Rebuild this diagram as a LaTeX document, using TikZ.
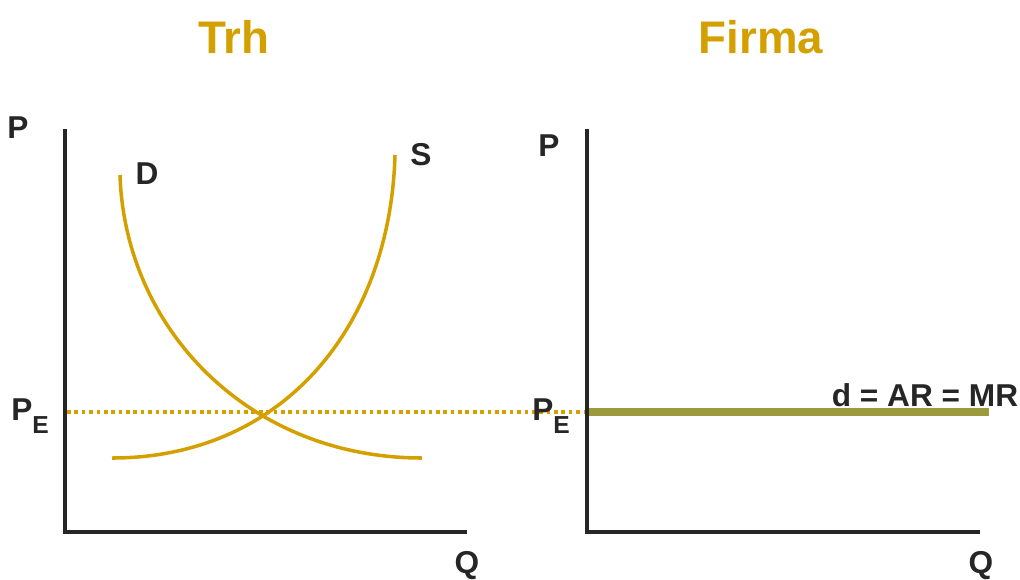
\documentclass[tikz,border=0pt]{standalone}
\usepackage{fontspec}
\setmainfont{Liberation Sans}
\usetikzlibrary{calc}
\definecolor{gold}{HTML}{D4A000}
\definecolor{olive}{HTML}{9B9A3C}
\definecolor{ink}{HTML}{262626}
\newcommand{\pesub}{P\raisebox{-0.42em}{\fontsize{14}{16}\selectfont E}}
\tikzset{
  axis/.style={ink,line width=2.2pt},
  curve/.style={gold,line width=2pt},
  lbl/.style={ink,font=\bfseries\fontsize{18}{20}\selectfont,inner sep=0pt},
  title/.style={gold,font=\bfseries\fontsize{26}{28}\selectfont,inner sep=0pt}
}
\begin{document}
\begin{tikzpicture}[x=0.02cm,y=-0.02cm]
\useasboundingbox (0,0) rectangle (1020,579);
% titles
\node[title] (trh) at (234,37) {Trh};
\node[title] (firma) at (761,37) {Firma};
% market axes
\coordinate (mtop) at (65,129);
\coordinate (morig) at (65,532);
\coordinate (mend) at (467,532);
\draw[axis] (mtop) -- (morig) -- (mend);
% firm axes
\coordinate (ftop) at (587,129);
\coordinate (forig) at (587,532);
\coordinate (fend) at (980,532);
\draw[axis] (ftop) -- (forig) -- (fend);
% equilibrium price
\draw[gold,line width=1.9pt,dash pattern=on 2.1pt off 2.1pt] (67,412) -- (585,412);
\draw[olive,line width=4pt] (589,412) -- (989,412);
% demand and supply
\draw[curve] (120,175) .. controls (125,330) and (250,458) .. (422,458);
\draw[curve] (112,458) .. controls (280,458) and (390,330) .. (395,155);
% labels
\node[lbl] (pm) at (18,128) {P};
\node[lbl] (pf) at (549,146) {P};
\node[lbl] (dl) at (147,174) {D};
\node[lbl] (sl) at (421,155) {S};
\node[lbl] (qm) at (467,566) {Q};
\node[lbl] (qf) at (981,566) {Q};
\node[lbl,anchor=base west] (pem) at (11,420) {\pesub};
\node[lbl,anchor=base west] (pef) at (532,420) {\pesub};
\node[lbl,font=\bfseries\fontsize{18}{20}\selectfont] (dar) at (925,395) {d = AR = MR};
\end{tikzpicture}
\end{document}
